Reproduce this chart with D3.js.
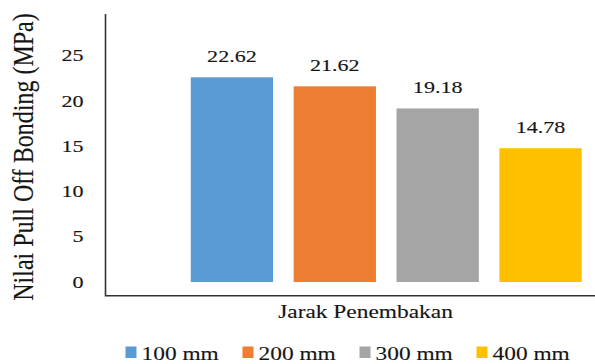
<!DOCTYPE html>
<html>
<head>
<meta charset="utf-8">
<script src="https://cdn.jsdelivr.net/npm/d3@7"></script>
<style>
  html, body { margin: 0; padding: 0; background: #fff; }
  svg { display: block; }
  text { font-family: "Liberation Serif", "Times New Roman", serif; fill: #151515; stroke: #151515; stroke-width: 0.12; }
</style>
</head>
<body>
<svg id="chart" width="595" height="364"></svg>
<script>
// Pull-off bonding strength by spraying distance
const series = ["100 mm", "200 mm", "300 mm", "400 mm"];
const values = [22.62, 21.62, 19.18, 14.78];
const colors = ["#5B9BD5", "#ED7D31", "#A5A5A5", "#FFC000"];
const yTicks = [0, 5, 10, 15, 20, 25];
const xTitle = "Jarak Penembakan";
const yTitle = "Nilai Pull Off Bonding (MPa)";

const svg = d3.select("#chart");
const SX = 1.3; // wide serif lettering

const x = d3.scaleBand().domain(series).range([180.5, 592]).paddingInner(0.2).paddingOuter(0.1);
const y = d3.scaleLinear().domain([0, 30]).range([282, 10.5]);

// stretched text helper
function label(g, px, py, txt, size, anchor, sx) {
  return g.append("g")
    .attr("transform", `translate(${px},${py}) scale(${sx || SX},1)`)
    .append("text")
    .attr("text-anchor", anchor)
    .attr("font-size", size)
    .text(txt);
}

// plot frame (left and bottom lines)
svg.append("path")
  .attr("d", "M105.5,14 V295.7 H595")
  .attr("fill", "none")
  .attr("stroke", "#333")
  .attr("stroke-width", 1.6);

// y tick labels
const yg = svg.append("g");
yTicks.forEach(t => label(yg, 83.5, y(t) + 5.5, d3.format("d")(t), 17, "end"));

// bars
svg.append("g").selectAll("rect")
  .data(series)
  .join("rect")
  .attr("x", d => x(d))
  .attr("y", (d, i) => y(values[i]))
  .attr("width", x.bandwidth())
  .attr("height", (d, i) => y(0) - y(values[i]))
  .attr("fill", (d, i) => colors[i]);

// value labels
const vg = svg.append("g");
series.forEach((s, i) => label(vg, x(s) + x.bandwidth() / 2, y(values[i]) - 15, values[i].toFixed(2), 17, "middle"));

// axis titles
label(svg, 365.5, 317.5, xTitle, 18, "middle");
svg.append("g")
  .attr("transform", "translate(33,157) scale(1.2,1) rotate(-90)")
  .append("text")
  .attr("text-anchor", "middle")
  .attr("font-size", 24)
  .text(yTitle);

// legend
const lg = svg.append("g");
series.forEach((s, i) => {
  const lx = 125.5 + i * 117;
  lg.append("rect").attr("x", lx).attr("y", 346.5).attr("width", 11).attr("height", 11.5).attr("fill", colors[i]);
  label(lg, lx + 16, 359.5, s, 18, "start");
});
</script>
</body>
</html>
